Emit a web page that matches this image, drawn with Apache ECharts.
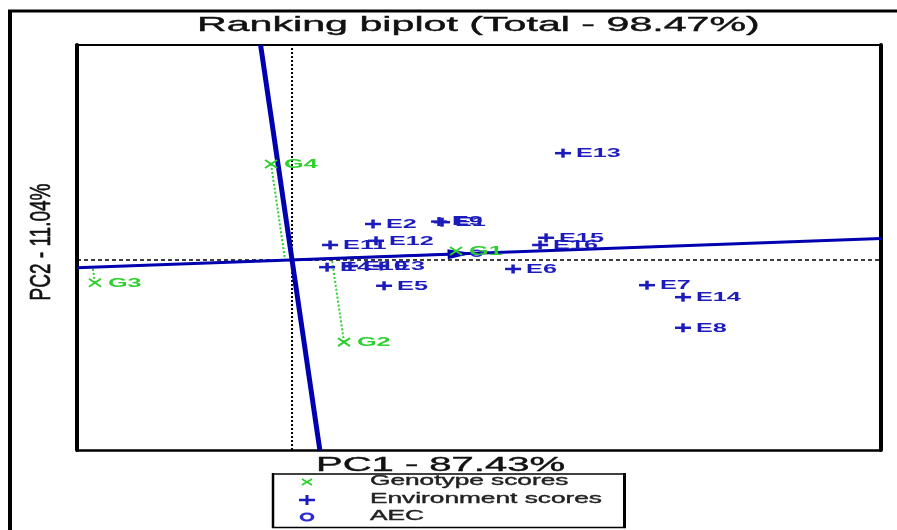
<!DOCTYPE html>
<html>
<head>
<meta charset="utf-8">
<script src="https://cdn.jsdelivr.net/npm/echarts@6/dist/echarts.min.js"></script>
<style>html,body{margin:0;padding:0;background:#fff;}#c{width:897px;height:530px;}</style>
</head>
<body>
<div id="c"></div>
<script>
// ---- data (GGE ranking biplot scores) ----
const genoNames = ['G1', 'G2', 'G3', 'G4'];
const genoX = [1.367, 0.433, -1.642, -0.175];
const genoY = [0.15, -1.37, -0.38, 1.60];

const envNames = ['E1','E2','E3','E4','E5','E6','E7','E8','E9','E10','E11','E12','E13','E14','E15','E16'];
const envX = [1.25, 0.675, 0.742, 0.292, 0.767, 1.842, 2.958, 3.258, 1.225, 0.483, 0.317, 0.70, 2.258, 3.258, 2.117, 2.067];
const envY = [0.63, 0.60, -0.10, -0.12, -0.43, -0.15, -0.42, -1.13, 0.64, -0.10, 0.25, 0.32, 1.78, -0.62, 0.37, 0.25];

const xRange = [-1.792, 4.908];
const yRange = [-3.167, 3.583];

const titleText = 'Ranking biplot (Total - 98.47%)';
const xName = 'PC1 - 87.43%';
const yName = 'PC2 - 11.04%';
const legendItems = ['Genotype scores', 'Environment scores', 'AEC'];

// ---- derived: average environment coordinate (AEC) ----
const mean = a => a.reduce((s, v) => s + v, 0) / a.length;
const aec = [mean(envX), mean(envY)];
const slope = aec[1] / aec[0];            // AEC abscissa through origin
const abscissa = [[xRange[0], slope * xRange[0]], [xRange[1], slope * xRange[1]]];
const ordinate = [[-slope * yRange[1], yRange[1]], [-slope * yRange[0], yRange[0]]];
const uLen = Math.hypot(aec[0], aec[1]);
const u = [aec[0] / uLen, aec[1] / uLen];
const projLines = genoX.map((gx, i) => {
  const gy = genoY[i];
  const d = gx * u[0] + gy * u[1];
  return { coords: [[gx, gy], [d * u[0], d * u[1]]] };
});

const BLUE = '#0000b0';
const LBLUE = '#1c1cbc';
const GREEN = '#2fcf2f';
const FONT = '"Liberation Sans", Arial, sans-serif';
const SX = 2.1;

const chart = echarts.init(document.getElementById('c'), null, { renderer: 'canvas' });

const hiddenAxis = {
  type: 'value',
  axisTick: { show: false },
  axisLabel: { show: false },
  splitLine: { show: false }
};

function txt(x, y, text, font, color, extra) {
  return Object.assign({ type: 'text', x: x, y: y,
    style: { text: text, fill: color, font: font, stroke: color, lineWidth: 0.4,
      textAlign: 'left', textVerticalAlign: 'middle', align: 'left', verticalAlign: 'middle' } }, extra || {});
}

const option = {
  animation: false,
  backgroundColor: '#fff',
  grid: { left: 77, top: 45, right: 16, bottom: 80, show: false },
  xAxis: [
    Object.assign({}, hiddenAxis, { min: xRange[0], max: xRange[1], position: 'bottom',
      axisLine: { show: true, onZero: false, lineStyle: { color: '#000', width: 2.5 } } }),
    Object.assign({}, hiddenAxis, { min: xRange[0], max: xRange[1], position: 'top',
      axisLine: { show: true, onZero: false, lineStyle: { color: '#000', width: 2 } } })
  ],
  yAxis: [
    Object.assign({}, hiddenAxis, { min: yRange[0], max: yRange[1], position: 'left',
      axisLine: { show: true, onZero: false, lineStyle: { color: '#000', width: 4 } } }),
    Object.assign({}, hiddenAxis, { min: yRange[0], max: yRange[1], position: 'right',
      axisLine: { show: true, onZero: false, lineStyle: { color: '#000', width: 4 } } })
  ],
  series: [
    { type: 'line', z: 1, symbol: 'none', silent: true,
      data: [[0, yRange[0]], [0, yRange[1]]],
      lineStyle: { color: '#000', width: 2, type: [2, 2] } },
    { type: 'line', z: 1, symbol: 'none', silent: true,
      data: [[xRange[0], 0], [xRange[1], 0]],
      lineStyle: { color: '#000', width: 1.5, type: [4, 3] } },
    { type: 'lines', coordinateSystem: 'cartesian2d', z: 2, silent: true,
      data: projLines,
      lineStyle: { color: GREEN, width: 2, type: [2, 2], opacity: 1 } },
    { type: 'line', z: 3, symbol: 'none', silent: true,
      data: abscissa, lineStyle: { color: BLUE, width: 3 } },
    { type: 'line', z: 3, symbol: 'none', silent: true,
      data: ordinate, lineStyle: { color: BLUE, width: 5 } },
    // arrow to AEC + circle
    { type: 'custom', z: 4, silent: true,
      data: [[aec[0], aec[1]]],
      renderItem: function (params, api) {
        const o = api.coord([0, 0]);
        const t = api.coord([api.value(0), api.value(1)]);
        const dx = t[0] - o[0], dy = t[1] - o[1];
        const L = Math.hypot(dx, dy);
        const d = [dx / L, dy / L], n = [-d[1], d[0]];
        const hl = 26, hw = 5;
        const b = [t[0] - d[0] * hl, t[1] - d[1] * hl];
        return { type: 'group', children: [
          { type: 'line', shape: { x1: o[0], y1: o[1], x2: t[0], y2: t[1] }, style: { stroke: BLUE, lineWidth: 2 } },
          { type: 'polygon', shape: { points: [t, [b[0] + n[0] * hw, b[1] + n[1] * hw], [b[0] - n[0] * hw, b[1] - n[1] * hw]] },
            style: { fill: BLUE } },
          { type: 'circle', x: t[0] + 3, y: t[1], scaleX: 1.7, shape: { cx: 0, cy: 0, r: 3 },
            style: { fill: 'none', stroke: '#2a2ad0', lineWidth: 1.5 } }
        ] };
      } },
    // environments
    { type: 'custom', z: 5, silent: true,
      data: envX.map((x, i) => [x, envY[i], i]),
      renderItem: function (params, api) {
        const p = api.coord([api.value(0), api.value(1)]);
        const i = api.value(2);
        return { type: 'group', children: [
          { type: 'line', shape: { x1: p[0] - 8, y1: p[1], x2: p[0] + 8, y2: p[1] }, style: { stroke: LBLUE, lineWidth: 2.5 } },
          { type: 'line', shape: { x1: p[0], y1: p[1] - 4.5, x2: p[0], y2: p[1] + 4.5 }, style: { stroke: LBLUE, lineWidth: 3.5 } },
          { type: 'text', x: p[0] + 13, y: p[1] + 0.5, scaleX: SX,
            style: { text: envNames[i], fill: LBLUE, font: 'bold 12px ' + FONT,
              textAlign: 'left', textVerticalAlign: 'middle', align: 'left', verticalAlign: 'middle' } }
        ] };
      } },
    // genotypes
    { type: 'custom', z: 5, silent: true,
      data: genoX.map((x, i) => [x, genoY[i], i]),
      renderItem: function (params, api) {
        const p = api.coord([api.value(0), api.value(1)]);
        const i = api.value(2);
        return { type: 'group', children: [
          { type: 'line', shape: { x1: p[0] - 6, y1: p[1] - 4, x2: p[0] + 6, y2: p[1] + 4 }, style: { stroke: GREEN, lineWidth: 2 } },
          { type: 'line', shape: { x1: p[0] - 6, y1: p[1] + 4, x2: p[0] + 6, y2: p[1] - 4 }, style: { stroke: GREEN, lineWidth: 2 } },
          { type: 'text', x: p[0] + 13, y: p[1] + 0.5, scaleX: SX,
            style: { text: genoNames[i], fill: GREEN, font: 'bold 12px ' + FONT,
              textAlign: 'left', textVerticalAlign: 'middle', align: 'left', verticalAlign: 'middle' } }
        ] };
      } }
  ],
  graphic: [
    // outer frame
    { type: 'line', shape: { x1: 8, y1: 11, x2: 897, y2: 11 }, style: { stroke: '#000', lineWidth: 3 } },
    { type: 'line', shape: { x1: 10, y1: 10, x2: 10, y2: 530 }, style: { stroke: '#000', lineWidth: 4 } },
    // title
    txt(197, 25, titleText, '21px ' + FONT, '#111', { scaleX: 1.96 }),
    // x axis name
    txt(316, 465, xName, '20px ' + FONT, '#111', { scaleX: 2.0 }),
    // y axis name
    { type: 'text', x: 42, y: 242, rotation: Math.PI / 2, scaleY: 1.6,
      style: { text: yName, fill: '#111', stroke: '#111', lineWidth: 0.4, font: '19px ' + FONT,
        textAlign: 'center', textVerticalAlign: 'middle', align: 'center', verticalAlign: 'middle' } },
    // legend box
    { type: 'line', shape: { x1: 272, y1: 474, x2: 626, y2: 474 }, style: { stroke: '#000', lineWidth: 1.5 } },
    { type: 'line', shape: { x1: 272, y1: 527.5, x2: 626, y2: 527.5 }, style: { stroke: '#000', lineWidth: 1.5 } },
    { type: 'line', shape: { x1: 273, y1: 473, x2: 273, y2: 528 }, style: { stroke: '#000', lineWidth: 2.5 } },
    { type: 'line', shape: { x1: 624.5, y1: 473, x2: 624.5, y2: 528 }, style: { stroke: '#000', lineWidth: 3 } },
    // legend symbols
    { type: 'line', shape: { x1: 302, y1: 479, x2: 312, y2: 485 }, style: { stroke: GREEN, lineWidth: 1.8 } },
    { type: 'line', shape: { x1: 302, y1: 485, x2: 312, y2: 479 }, style: { stroke: GREEN, lineWidth: 1.8 } },
    { type: 'line', shape: { x1: 299, y1: 500, x2: 315, y2: 500 }, style: { stroke: LBLUE, lineWidth: 2.5 } },
    { type: 'line', shape: { x1: 307, y1: 495, x2: 307, y2: 505 }, style: { stroke: LBLUE, lineWidth: 3 } },
    { type: 'circle', x: 307, y: 517, scaleX: 1.6, shape: { cx: 0, cy: 0, r: 3.5 }, style: { fill: 'none', stroke: '#2a2ad0', lineWidth: 2.2 } },
    // legend text
    txt(370, 481, legendItems[0], '15px ' + FONT, '#222', { scaleX: 1.75 }),
    txt(370, 499, legendItems[1], '15px ' + FONT, '#222', { scaleX: 1.75 }),
    txt(370, 516, legendItems[2], '15px ' + FONT, '#222', { scaleX: 1.75 })
  ]
};

chart.setOption(option);
</script>
</body>
</html>
